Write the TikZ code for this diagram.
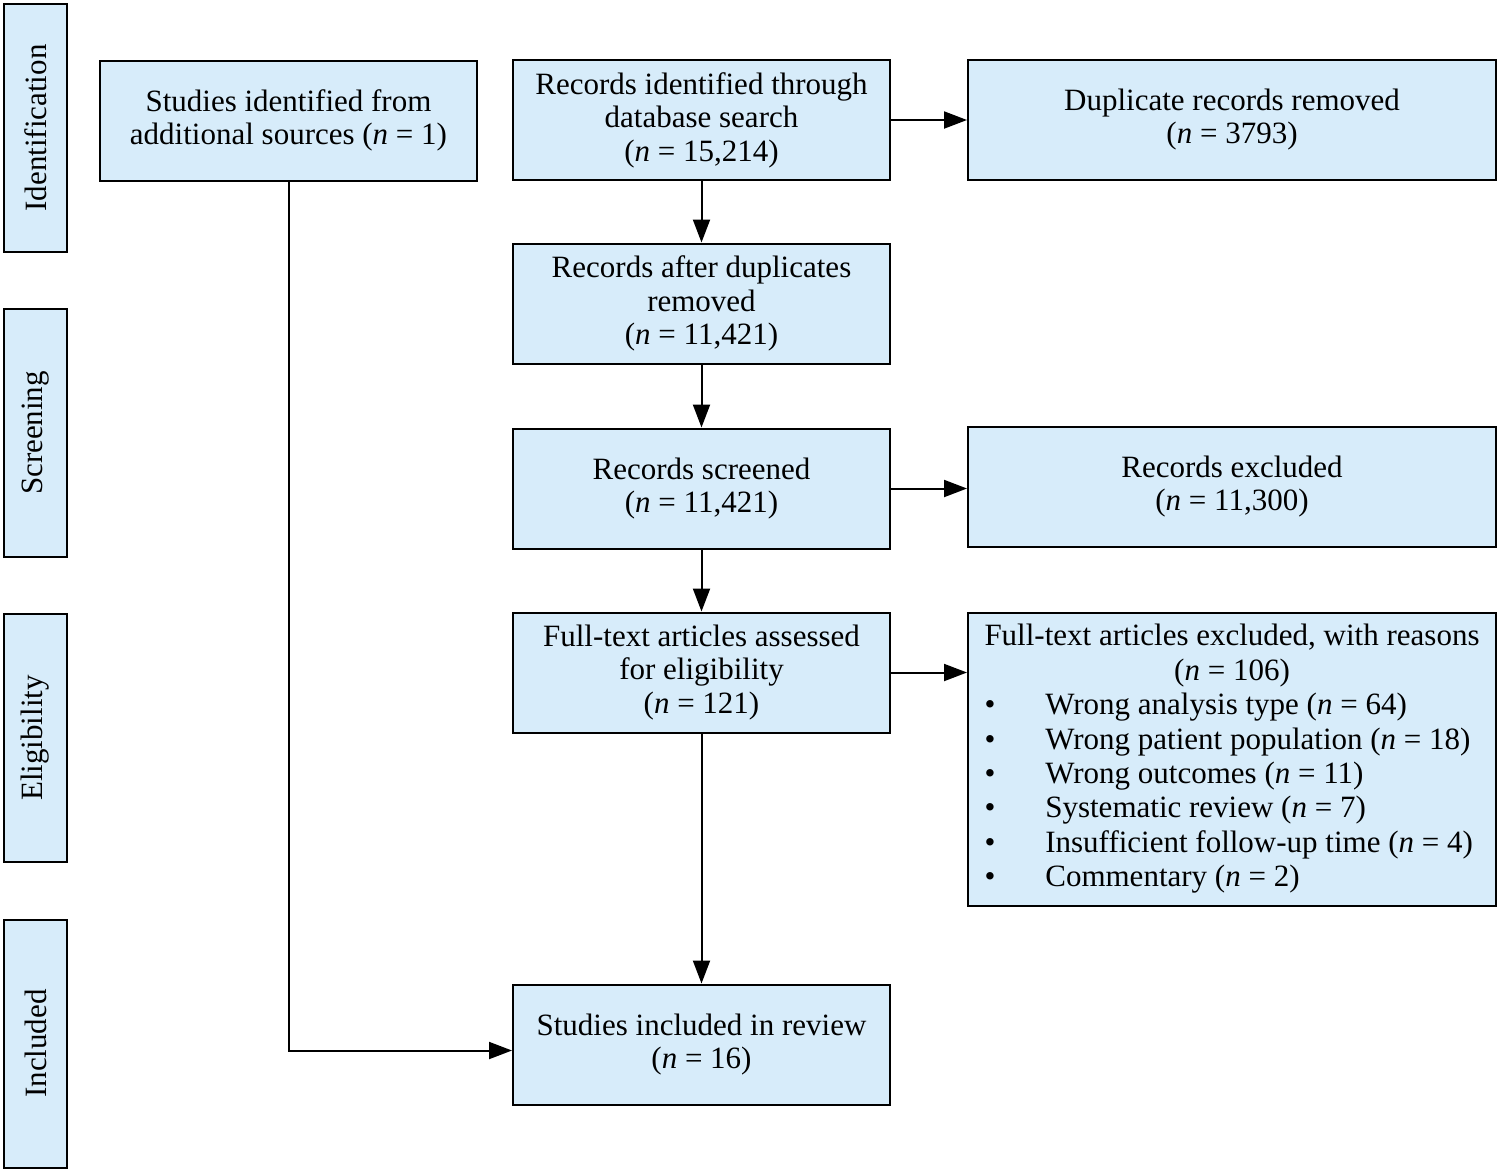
\documentclass[tikz,border=0pt]{standalone}
\usepackage{fontspec}
\setmainfont{Liberation Serif}
\usepackage{tikz}
\usetikzlibrary{arrows.meta}
\definecolor{boxblue}{RGB}{215,236,250}
\newcommand{\Nn}[1]{(\textit{n}~=~#1)}

\begin{document}
\begin{tikzpicture}[x=0.5pt, y=-0.5pt, >={Triangle[length=11.5pt, width=8.5pt]}, line width=1pt,
    every node/.style={font=\fontsize{15.5}{16.8}\selectfont},
    flowbox/.style={draw, fill=boxblue, align=center, inner sep=2pt,
      minimum width=188.5pt, minimum height=60pt},
    widebox/.style={flowbox, minimum width=264pt},
    phase/.style={draw, fill=boxblue, rotate=90, inner sep=0pt,
      minimum width=124pt, minimum height=31.5pt}]
  \useasboundingbox (0,0) rectangle (1499,1174);
  % phase labels on the left
  \node[phase] (idph) at (35.5,128) {Identification};
  \node[phase] (scph) at (35.5,433) {Screening};
  \node[phase] (elph) at (35.5,738) {Eligibility};
  \node[phase] (inph) at (35.5,1043.5) {Included};
  % boxes
  \node[flowbox] (add) at (288.5,120.5) {Studies identified from\\additional sources \Nn{1}};
  \node[flowbox] (recid) at (701.5,120) {Records identified through\\database search\\\Nn{15,214}};
  \node[widebox] (dup) at (1232,119.5) {Duplicate records removed\\\Nn{3793}};
  \node[flowbox] (after) at (701.5,303.5) {Records after duplicates\\removed\\\Nn{11,421}};
  \node[flowbox] (screened) at (701.5,488.5) {Records screened\\\Nn{11,421}};
  \node[widebox] (excl) at (1232,486.5) {Records excluded\\\Nn{11,300}};
  \node[flowbox] (full) at (701.5,672.5) {Full-text articles assessed\\for eligibility\\\Nn{121}};
  \node[widebox, minimum height=146.5pt] (fullex) at (1232,759.5) {%
    \fontsize{15.5}{17.2}\selectfont
    \begin{tabular}{@{}c@{\hspace{25pt}}l@{}}
      \multicolumn{2}{@{}c@{}}{Full-text articles excluded, with reasons}\\
      \multicolumn{2}{@{}c@{}}{\Nn{106}}\\
      \textbullet & Wrong analysis type \Nn{64}\\
      \textbullet & Wrong patient population \Nn{18}\\
      \textbullet & Wrong outcomes \Nn{11}\\
      \textbullet & Systematic review \Nn{7}\\
      \textbullet & Insufficient follow-up time \Nn{4}\\
      \textbullet & Commentary \Nn{2}
    \end{tabular}};
  \node[flowbox] (incl) at (701.5,1044.5) {Studies included in review\\\Nn{16}};
  \coordinate (entry) at ([yshift=-3pt]incl.west);
  % connectors
  \draw[->] (recid.east) -- (recid.east -| dup.west);
  \draw[->] (recid) -- (after);
  \draw[->] (after) -- (screened);
  \draw[->] (screened.east) -- (screened.east -| excl.west);
  \draw[->] (screened) -- (full);
  \draw[->] (full.east) -- (full.east -| fullex.west);
  \draw[->] (full) -- (incl);
  \draw[->] (add.south) |- (entry);
\end{tikzpicture}
\end{document}
